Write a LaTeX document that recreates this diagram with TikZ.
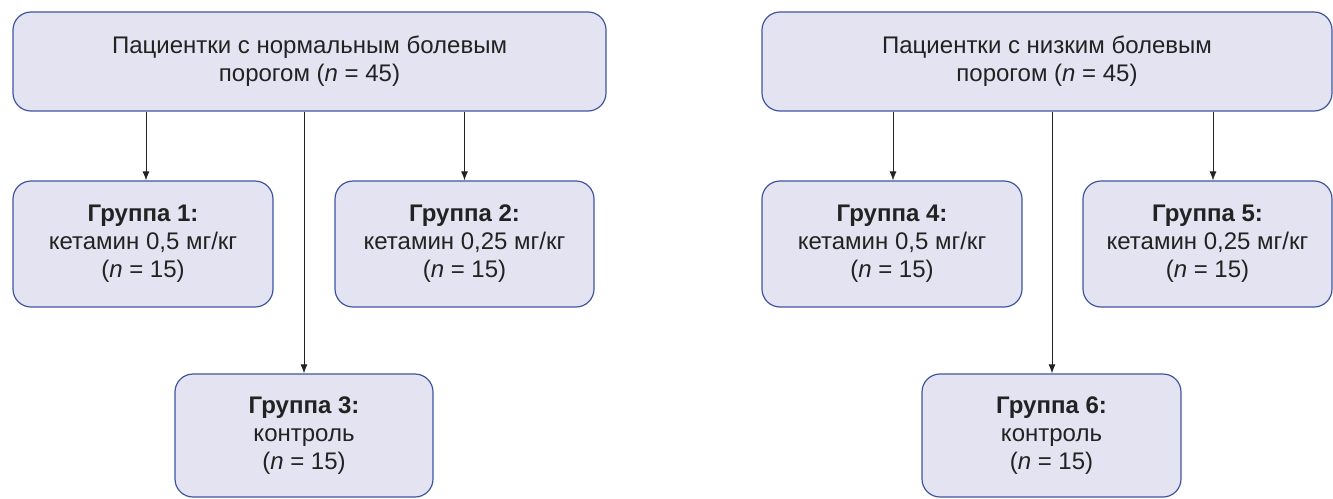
\documentclass[tikz,border=0pt]{standalone}
\usepackage{fontspec}
\setmainfont{Liberation Sans}
\usetikzlibrary{arrows.meta}
\definecolor{boxfill}{HTML}{E3E3F1}
\definecolor{boxline}{HTML}{3F55A0}
\definecolor{txt}{HTML}{222222}
\begin{document}
\begin{tikzpicture}[x=1pt,y=1pt,
  box/.style={draw=boxline,fill=boxfill,line width=1.2pt,rounded corners=18pt,
    align=center,text=txt,font=\fontsize{24}{28}\selectfont,inner sep=0pt},
  topbox/.style={box,minimum height=99pt},
  grpbox/.style={box,minimum height=126pt},
  arr/.style={draw=txt,line width=1pt,-{Latex[length=9pt,width=7pt]}}]
\useasboundingbox (0,0) rectangle (1333,-498);
\node[topbox,minimum width=593pt] (t1) at (309.5,-61.5) {Пациентки с нормальным болевым\\порогом (\textit{n} = 45)};
\node[topbox,minimum width=570pt] (t2) at (1047,-61.5) {Пациентки с низким болевым\\порогом (\textit{n} = 45)};
\node[grpbox,minimum width=260pt] (g1) at (143,-244) {\textbf{Группа 1:}\\кетамин 0,5 мг/кг\\(\textit{n} = 15)};
\node[grpbox,minimum width=259pt] (g2) at (464.5,-244) {\textbf{Группа 2:}\\кетамин 0,25 мг/кг\\(\textit{n} = 15)};
\node[box,minimum width=258pt,minimum height=123pt] (g3) at (304,-435.5) {\textbf{Группа 3:}\\контроль\\(\textit{n} = 15)};
\node[grpbox,minimum width=260pt] (g4) at (892,-244) {\textbf{Группа 4:}\\кетамин 0,5 мг/кг\\(\textit{n} = 15)};
\node[grpbox,minimum width=249pt] (g5) at (1207.5,-244) {\textbf{Группа 5:}\\кетамин 0,25 мг/кг\\(\textit{n} = 15)};
\node[box,minimum width=259pt,minimum height=123pt] (g6) at (1051.5,-435.5) {\textbf{Группа 6:}\\контроль\\(\textit{n} = 15)};
\draw[arr] ([xshift=3pt]t1.south -| g1.north) -- ([xshift=3pt]g1.north);
\draw[arr] (t1.south -| g2.north) -- (g2.north);
\draw[arr] (t1.south -| g3.north) -- (g3.north);
\draw[arr] ([xshift=1pt]t2.south -| g4.north) -- ([xshift=1pt]g4.north);
\draw[arr] ([xshift=5.5pt]t2.south -| g5.north) -- ([xshift=5.5pt]g5.north);
\draw[arr] ([xshift=0.5pt]t2.south -| g6.north) -- ([xshift=0.5pt]g6.north);
\end{tikzpicture}
\end{document}
